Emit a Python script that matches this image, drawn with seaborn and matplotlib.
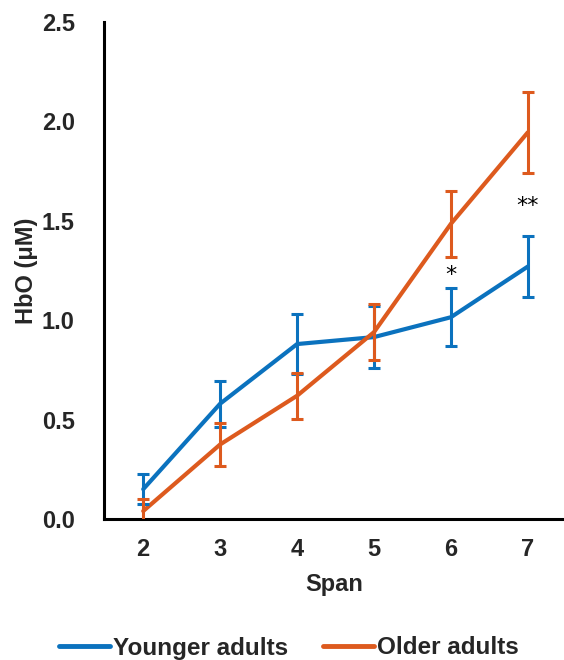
import matplotlib
matplotlib.use("Agg")
import matplotlib.pyplot as plt
import seaborn as sns
import pandas as pd
import numpy as np

span = [2, 3, 4, 5, 6, 7]
young_mean = [0.15, 0.58, 0.88, 0.915, 1.015, 1.27]
young_err = [0.075, 0.115, 0.15, 0.155, 0.145, 0.155]
older_mean = [0.04, 0.375, 0.62, 0.94, 1.485, 1.945]
older_err = [0.06, 0.11, 0.115, 0.14, 0.165, 0.205]
groups = ["Younger adults", "Older adults"]
colors = ["#0B72BE", "#DD5A1E"]
sig_x = [6, 7]
sig_y = [1.225, 1.575]
sig_txt = ["*", "**"]

sns.set_theme(style="white")
plt.rcParams['font.family'] = ['Liberation Sans', 'DejaVu Sans']
plt.rcParams['font.weight'] = 'bold'

df = pd.DataFrame({
    "Span": span * 2,
    "HbO": young_mean + older_mean,
    "err": young_err + older_err,
    "group": [groups[0]] * len(span) + [groups[1]] * len(span),
})

fig = plt.figure(figsize=(5.64, 6.6), dpi=100)
ax = fig.add_axes([104 / 564, 1 - 519 / 660, 1 - 104 / 564, (519 - 22) / 660])

sns.lineplot(data=df, x="Span", y="HbO", hue="group", hue_order=groups,
             palette=colors, linewidth=3, ax=ax, legend=True)
for g, c in zip(groups, colors):
    sub = df[df.group == g]
    ax.errorbar(sub["Span"], sub["HbO"], yerr=sub["err"], fmt="none",
                ecolor=c, elinewidth=2.2, capsize=4, capthick=2.2, zorder=3)

for x, y, t in zip(sig_x, sig_y, sig_txt):
    ax.text(x, y, t, ha="center", va="center", fontsize=16, color="black",
            fontweight="normal", family="DejaVu Sans")

ax.set_xlim(1.49, 7.47)
ax.set_ylim(0, 2.5)
ax.set_xticks(span)
ax.set_yticks([0, 0.5, 1.0, 1.5, 2.0, 2.5])
ax.set_yticklabels(["0.0", "0.5", "1.0", "1.5", "2.0", "2.5"])
ax.tick_params(axis="both", length=0, labelsize=17)
ax.tick_params(axis="y", pad=21)
ax.tick_params(axis="x", pad=14)
for lab in ax.get_xticklabels() + ax.get_yticklabels():
    lab.set_fontweight("bold")
ax.set_xlabel("Span", fontsize=17, fontweight="bold", labelpad=8)
ax.set_ylabel("HbO (μM)", fontsize=17, fontweight="bold", labelpad=3)
for s in ["top", "right"]:
    ax.spines[s].set_visible(False)
for s in ["left", "bottom"]:
    ax.spines[s].set_linewidth(2.2)
    ax.spines[s].set_color("black")
ax.grid(False)

handles, labels = ax.get_legend_handles_labels()
ax.legend(handles, labels, loc="center", bbox_to_anchor=(288.5 / 564, 1 - 648 / 660),
          bbox_transform=fig.transFigure, ncol=2, frameon=False,
          prop={"size": 17.5, "weight": "bold"}, handlelength=2.1,
          handletextpad=0.12, columnspacing=1.43, borderpad=0)
for l in ax.get_legend().get_lines():
    l.set_linewidth(3.5)

fig.savefig("out.png", dpi=100)
